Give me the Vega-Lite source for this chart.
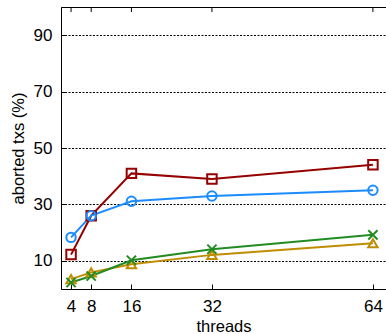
{
  "$schema": "https://vega.github.io/schema/vega-lite/v6.json",
  "width": 325,
  "height": 282,
  "autosize": {"type": "none"},
  "padding": {"left": 61, "top": 7, "right": 0, "bottom": 45},
  "background": "white",
  "config": {
    "view": {"stroke": "black", "strokeWidth": 1},
    "font": "Liberation Sans",
    "axis": {
      "domainColor": "black",
      "tickColor": "black",
      "labelColor": "black",
      "titleColor": "black",
      "labelFont": "Liberation Sans",
      "titleFont": "Liberation Sans",
      "labelFontSize": 17,
      "titleFontSize": 16.5,
      "titleFontWeight": "normal",
      "tickSize": -5,
      "labelPadding": 14
    }
  },
  "data": {
    "values": [
      {"series": "s1", "threads": 4, "value": 12.2},
      {"series": "s1", "threads": 8, "value": 26.0},
      {"series": "s1", "threads": 16, "value": 41.0},
      {"series": "s1", "threads": 32, "value": 39.0},
      {"series": "s1", "threads": 64, "value": 44.1},
      {"series": "s2", "threads": 4, "value": 18.3},
      {"series": "s2", "threads": 8, "value": 26.0},
      {"series": "s2", "threads": 16, "value": 31.1},
      {"series": "s2", "threads": 32, "value": 33.0},
      {"series": "s2", "threads": 64, "value": 35.0},
      {"series": "s3", "threads": 4, "value": 3.5},
      {"series": "s3", "threads": 8, "value": 5.9},
      {"series": "s3", "threads": 16, "value": 8.8},
      {"series": "s3", "threads": 32, "value": 12.1},
      {"series": "s3", "threads": 64, "value": 16.2},
      {"series": "s4", "threads": 4, "value": 2.3},
      {"series": "s4", "threads": 8, "value": 4.6},
      {"series": "s4", "threads": 16, "value": 10.2},
      {"series": "s4", "threads": 32, "value": 14.1},
      {"series": "s4", "threads": 64, "value": 19.2}
    ]
  },
  "encoding": {
    "x": {
      "field": "threads", "type": "quantitative",
      "scale": {"domain": [2, 66.6], "nice": false, "zero": false},
      "axis": {"values": [4, 8, 16, 32, 64], "title": "threads", "grid": false, "titlePadding": 4}
    },
    "y": {
      "field": "value", "type": "quantitative",
      "scale": {"domain": [0, 100], "nice": false},
      "axis": {"values": [10, 30, 50, 70, 90], "title": "aborted txs (%)", "grid": true, "gridColor": "black", "gridDash": [2, 1.5], "gridOpacity": 1, "gridWidth": 1, "titlePadding": 7}
    },
    "color": {
      "field": "series", "type": "nominal", "legend": null,
      "scale": {"domain": ["s1", "s2", "s3", "s4"], "range": ["#960000", "#1a8cff", "#c08c00", "#228b22"]}
    }
  },
  "layer": [
    {"mark": {"type": "line", "strokeWidth": 2}},
    {
      "mark": {"type": "point", "filled": false, "strokeWidth": 2, "opacity": 1},
      "encoding": {
        "shape": {
          "field": "series", "type": "nominal", "legend": null,
          "scale": {"domain": ["s1", "s2", "s3", "s4"], "range": ["square", "circle", "triangle-up", "M-1,-1L1,1M1,-1L-1,1"]}
        },
        "size": {
          "field": "series", "type": "nominal", "legend": null,
          "scale": {"domain": ["s1", "s2", "s3", "s4"], "range": [90, 85, 115, 130]}
        }
      }
    },
    {
      "transform": [{"filter": "datum.series == 's1'"}],
      "mark": {"type": "rule", "color": "black", "strokeWidth": 1},
      "encoding": {
        "y": {"datum": 100},
        "y2": {"datum": 98.2},
        "color": {"value": "black"}
      }
    }
  ]
}
